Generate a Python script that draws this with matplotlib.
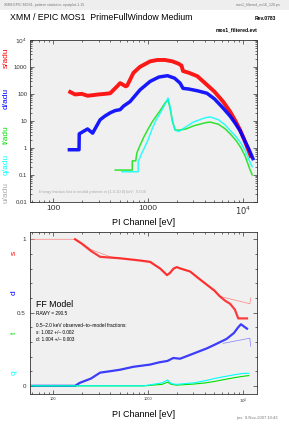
import matplotlib
matplotlib.use('Agg')
import matplotlib.pyplot as plt
from matplotlib.ticker import FixedLocator, LogLocator, MultipleLocator, NullFormatter
from matplotlib.patches import Rectangle

plt.rcParams['font.family'] = ['Liberation Sans', 'DejaVu Sans']

# === Top panel: spectra per pattern class (counts/adu) ===
e_s = [151, 170, 200, 230, 265, 300, 350, 398, 468, 507, 580, 600, 700, 820, 1050, 1250,
       1500, 1800, 2100, 2250, 2330, 2700, 3300, 4170, 5000, 6150, 7300, 8300, 9300, 10300, 11000, 12000]
v_s = [117, 95, 100, 85, 90, 95, 100, 105, 185, 250, 190, 200, 600, 1000, 1600, 1800,
       1800, 1600, 1300, 1100, 700, 600, 450, 215, 120, 52, 22, 10, 4.6, 2.0, 1.1, 0.5]

e_d = [148, 187, 188, 230, 260, 312, 350, 400, 450, 507, 550, 646, 820, 1050, 1300, 1600,
       1900, 2170, 2330, 2700, 3300, 4170, 5000, 6150, 7300, 8300, 9300, 10300, 11500, 12700]
v_d = [0.85, 0.85, 3.3, 5, 3.5, 11, 15, 20, 24, 26, 35, 52, 140, 290, 420, 470,
       380, 250, 160, 150, 130, 105, 65, 30, 15, 8, 4.3, 2.0, 0.9, 0.4]

e_t = [450, 680, 681, 740, 760, 800, 900, 1000, 1100, 1200, 1350, 1500, 1620, 1700, 1800, 1920,
       2100, 2500, 3000, 4000, 4500, 5500, 6500, 7500, 8500, 9500, 10500, 11800, 12500]
v_t = [0.15, 0.15, 0.33, 0.33, 0.64, 1.0, 2.5, 5, 9, 14, 25, 45, 60, 30, 10, 4.6,
       4.5, 5, 6.5, 8.5, 9, 7.5, 5, 3, 1.8, 1.0, 0.5, 0.16, 0.1]

e_q = [530, 785, 786, 850, 900, 1000, 1100, 1200, 1350, 1500, 1620, 1700, 1800, 1920,
       2100, 2500, 3000, 4000, 4500, 5500, 6500, 7500, 8500, 9500, 10500, 11800, 12500]
v_q = [0.13, 0.13, 0.3, 0.6, 0.9, 2, 5, 10, 20, 40, 70, 35, 10, 4.6,
       4, 6, 9, 13, 14, 11, 7, 4, 2.5, 1.5, 0.8, 0.3, 0.2]

# === Bottom panel: pattern fractions, data and FF model ===
e_s_frac = [170, 200, 250, 312, 400, 507, 700, 820, 1050, 1340, 1580, 1700, 1850, 2000, 2200,
            2770, 3300, 4150, 5000, 5700, 6500, 7300, 8200, 8900, 9400, 11000]
s_frac = [1.0, 0.97, 0.92, 0.88, 0.875, 0.87, 0.86, 0.855, 0.845, 0.80, 0.755, 0.77, 0.80, 0.81, 0.80,
          0.78, 0.74, 0.69, 0.65, 0.61, 0.58, 0.56, 0.52, 0.46, 0.46, 0.46]
e_s_model = [57, 170, 250, 400, 700, 1050, 1340, 1580, 2000, 2770, 4150, 5700, 11800, 12000]
s_model = [1.0, 1.0, 0.93, 0.88, 0.86, 0.85, 0.80, 0.76, 0.81, 0.78, 0.69, 0.61, 0.56, 0.60]

e_d_frac = [57, 170, 190, 250, 312, 400, 507, 700, 1050, 1300, 1600, 1840, 2170, 3000,
            4170, 5000, 6700, 8000, 8900, 9500, 11000]
d_frac = [0.0, 0.0, 0.02, 0.05, 0.09, 0.10, 0.11, 0.13, 0.145, 0.16, 0.17, 0.19, 0.185, 0.22,
          0.256, 0.28, 0.32, 0.36, 0.40, 0.42, 0.39]
e_d_model = [6200, 11800, 12000]
d_model = [0.29, 0.325, 0.27]

e_tq = [57, 900, 1400, 1600, 1750, 2000, 3000, 4000, 5000, 6000, 8000, 10000, 11500]
t_frac = [0.0, 0.0, 0.01, 0.025, 0.01, 0.005, 0.012, 0.02, 0.03, 0.04, 0.055, 0.065, 0.07]
q_frac = [0.0, 0.0, 0.02, 0.04, 0.015, 0.01, 0.02, 0.035, 0.05, 0.06, 0.075, 0.085, 0.085]

log_ticks = [0.01, 0.1, 1, 10, 100, 1000, 1e4]
log_labels = ['0.01', '0.1', '1', '10', '100', '1000', '$10^4$']
x_ticks = [100, 1000, 1e4]
x_labels = ['100', '1000', '$10^4$']

RED, BLUE, GREEN, CYAN = '#ff0000', '#0000ff', '#00e000', '#00ffff'

fig = plt.figure(figsize=(2.89, 4.24), dpi=100)

# header band
fig.patches.append(Rectangle((0, 0.976), 1, 0.024, transform=fig.transFigure,
                             facecolor='#eeeeee', edgecolor='none'))
fig.text(0.015, 0.988, 'XMM EPIC MOS1, pattern statistics: epatplot-1.15', fontsize=2.6,
         color='#777777', va='center')
fig.text(0.97, 0.988, 'mos1_filtered_ev16_120.ps', fontsize=2.6, color='#777777',
         va='center', ha='right')
fig.text(0.035, 0.958, 'XMM / EPIC MOS1  PrimeFullWindow Medium', fontsize=6.3, va='center')
fig.text(0.955, 0.956, 'Rev.0783', fontsize=3.6, va='center', ha='right', fontweight='bold')
fig.text(0.89, 0.929, 'mos1_filtered.evt', fontsize=3.6, va='center', ha='right', fontweight='bold')
fig.text(0.96, 0.012, 'jms  9-Nov-2007 10:43', fontsize=3.0, color='#777777', ha='right')


def style_axes(ax):
    ax.set_facecolor('#f0f0f0')
    ax.set_xscale('log')
    ax.set_xlim(57, 14000)
    ax.tick_params(which='both', direction='in', top=True, right=True, width=0.5, colors='#333333')
    ax.tick_params(which='major', length=3)
    ax.tick_params(which='minor', length=1.5)
    ax.xaxis.set_major_locator(FixedLocator(x_ticks))
    ax.xaxis.set_minor_locator(LogLocator(base=10, subs=range(2, 10)))
    ax.xaxis.set_minor_formatter(NullFormatter())
    for sp in ax.spines.values():
        sp.set_linewidth(0.6)
        sp.set_color('#333333')


# === Top plot ===
ax1 = fig.add_axes([0.104, 0.524, 0.785, 0.382])
style_axes(ax1)
ax1.set_yscale('log')
ax1.set_ylim(0.01, 1e4)
ax1.plot(e_s, v_s, color=RED, lw=2.8, alpha=0.9)
ax1.plot(e_d, v_d, color=BLUE, lw=2.5, alpha=0.9)
ax1.plot(e_t, v_t, color=GREEN, lw=1.1, alpha=0.8)
ax1.plot(e_q, v_q, color=CYAN, lw=1.1, alpha=0.8)
ax1.yaxis.set_major_locator(FixedLocator(log_ticks))
ax1.set_yticklabels(log_labels)
ax1.yaxis.set_minor_locator(LogLocator(base=10, subs=range(2, 10)))
ax1.yaxis.set_minor_formatter(NullFormatter())
ax1.set_xticklabels(x_labels)
ax1.tick_params(axis='y', labelsize=4.3, pad=2)
ax1.tick_params(axis='x', labelsize=6, pad=2)
ax1.text(0.04, 0.055, 'Energy fraction lost in invalid patterns in [1.0-10.0] keV:  0.006',
         transform=ax1.transAxes, fontsize=2.8, color='#aaaaaa')
ax1.set_xlabel('PI Channel [eV]', fontsize=6.5, labelpad=0.5)

for lab, col, yy in [('s/adu', RED, 0.863), ('d/adu', BLUE, 0.768), ('t/adu', GREEN, 0.682),
                     ('q/adu', CYAN, 0.611), ('u/adu', '#aaaaaa', 0.546)]:
    fig.text(0.022, yy, lab, rotation=90, color=col, fontsize=6, ha='center', va='center')

# === Bottom plot ===
ax2 = fig.add_axes([0.104, 0.071, 0.785, 0.382])
style_axes(ax2)
ax2.set_ylim(-0.055, 1.05)
ax2.plot(e_s_model, s_model, color='#ff8080', lw=0.5)
ax2.plot(e_s_frac, s_frac, color=RED, lw=1.6, alpha=0.75)
ax2.plot(e_d_model, d_model, color='#8080ff', lw=0.5)
ax2.plot(e_d_frac, d_frac, color=BLUE, lw=1.6, alpha=0.75)
ax2.plot(e_tq, t_frac, color=GREEN, lw=0.8)
ax2.plot(e_tq, q_frac, color=CYAN, lw=0.8)
ax2.yaxis.set_major_locator(FixedLocator([0, 0.5, 1]))
ax2.set_yticklabels(['0', '0.5', '1'])
ax2.yaxis.set_minor_locator(MultipleLocator(0.1))
ax2.set_xticklabels(x_labels)
ax2.tick_params(axis='y', labelsize=4.5, pad=3)
ax2.tick_params(axis='x', labelsize=2.8, pad=2)
ax2.set_xlabel('PI Channel [eV]', fontsize=6.5, labelpad=3)

ax2.text(0.025, 0.535, 'FF Model', transform=ax2.transAxes, fontsize=6.3)
ax2.text(0.025, 0.485, 'RAWY = 290.5', transform=ax2.transAxes, fontsize=3.4)
ax2.text(0.025, 0.415, '0.5\u20132.0 keV observed\u2013to\u2013model fractions:',
         transform=ax2.transAxes, fontsize=3.4)
ax2.text(0.025, 0.37, 's: 1.002 +/\u2013 0.002', transform=ax2.transAxes, fontsize=3.4)
ax2.text(0.025, 0.325, 'd: 1.004 +/\u2013 0.003', transform=ax2.transAxes, fontsize=3.4)

for lab, col, yy in [('s', RED, 0.403), ('d', BLUE, 0.309), ('t', GREEN, 0.214), ('q', CYAN, 0.12)]:
    fig.text(0.05, yy, lab, rotation=90, color=col, fontsize=6, ha='center', va='center')

fig.savefig('out.png', dpi=100)
